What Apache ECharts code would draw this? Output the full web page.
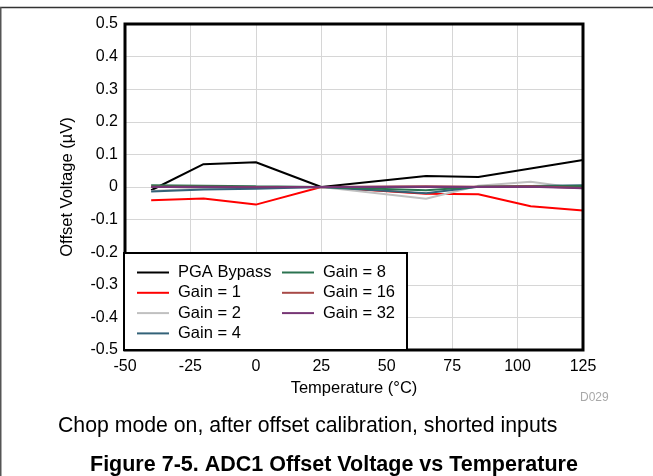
<!DOCTYPE html>
<html>
<head>
<meta charset="utf-8">
<script src="https://cdn.jsdelivr.net/npm/echarts@6/dist/echarts.min.js"></script>
<style>
html,body{margin:0;padding:0;background:#fff;}
#chart{width:653px;height:476px;}
</style>
</head>
<body>
<div id="chart"></div>
<script>
const temperatures = [-40, -20, 0, 25, 65, 85, 105, 125];
const pgaBypass = [-0.01, 0.070, 0.076, 0.0, 0.034, 0.031, 0.057, 0.083];
const gain1 = [-0.041, -0.035, -0.054, 0.0, -0.021, -0.022, -0.059, -0.072];
const gain2 = [-0.012, -0.004, -0.002, 0.0, -0.036, 0.004, 0.016, -0.005];
const gain4 = [-0.014, -0.008, -0.005, 0.0, -0.019, 0.001, 0.003, 0.005];
const gain8 = [0.005, 0.004, 0.002, 0.0, -0.010, 0.001, 0.002, 0.003];
const gain16 = [0.001, 0.001, 0.0, 0.0, 0.002, 0.001, 0.002, -0.003];
const gain32 = [0.0, 0.0, -0.001, 0.0, 0.001, 0.0, 0.001, -0.004];

const seriesNames = ['PGA Bypass', 'Gain = 1', 'Gain = 2', 'Gain = 4', 'Gain = 8', 'Gain = 16', 'Gain = 32'];
const seriesValues = [pgaBypass, gain1, gain2, gain4, gain8, gain16, gain32];
const seriesColors = ['#000000', '#ff0000', '#c0c0c0', '#336278', '#2b7350', '#a84a47', '#773675'];

const xTicks = [-50, -25, 0, 25, 50, 75, 100, 125];
const yTicks = [-0.5, -0.4, -0.3, -0.2, -0.1, 0, 0.1, 0.2, 0.3, 0.4, 0.5];

const FONT = '"Liberation Sans", Arial, sans-serif';

const chart = echarts.init(document.getElementById('chart'), null, {renderer: 'canvas'});

const series = seriesNames.map((name, i) => ({
  name: name,
  type: 'line',
  data: temperatures.map((t, j) => [t, seriesValues[i][j]]),
  symbol: 'none',
  lineStyle: {color: seriesColors[i], width: 2},
  itemStyle: {color: seriesColors[i]},
  z: 3 + i,
  animation: false
}));

const legendCommon = {
  orient: 'vertical',
  padding: 0,
  itemWidth: 32,
  itemHeight: 16,
  itemGap: 3.3,
  icon: 'path://M0,7 L32,7 L32,9 L0,9 Z',
  textStyle: {fontFamily: FONT, fontSize: 16.5, color: '#000', padding: [0, 0, 0, 4]},
  selectedMode: false,
  z: 20
};

chart.setOption({
  animation: false,
  grid: {left: 125, right: 70, top: 24, bottom: 126, show: false},
  xAxis: {
    type: 'value', min: -50, max: 125, interval: 25,
    name: 'Temperature (°C)', nameLocation: 'middle', nameGap: 25,
    nameTextStyle: {fontFamily: FONT, fontSize: 16.5, color: '#000'},
    axisLine: {show: false}, axisTick: {show: false},
    axisLabel: {fontFamily: FONT, fontSize: 16, color: '#000', margin: 9,
      formatter: v => xTicks.includes(v) ? String(v) : ''},
    splitLine: {show: true, lineStyle: {color: '#d6d6d6', width: 1}}
  },
  yAxis: {
    type: 'value', min: -0.5, max: 0.5, interval: 0.1,
    name: 'Offset Voltage (µV)', nameLocation: 'middle', nameGap: 49,
    nameTextStyle: {fontFamily: FONT, fontSize: 16.5, color: '#000'},
    axisLine: {show: false}, axisTick: {show: false},
    axisLabel: {fontFamily: FONT, fontSize: 16, color: '#000', margin: 7,
      formatter: v => { const t = yTicks.find(y => Math.abs(y - v) < 1e-9); return t === undefined ? '' : (t === 0 ? '0' : String(t)); }},
    splitLine: {show: true, lineStyle: {color: '#d6d6d6', width: 1}}
  },
  legend: [
    Object.assign({}, legendCommon, {left: 137, top: 264, data: seriesNames.slice(0, 4)}),
    Object.assign({}, legendCommon, {left: 282, top: 264, data: seriesNames.slice(4)})
  ],
  title: [
    {text: 'D029', left: 575, top: 386.5, textStyle: {fontFamily: FONT, fontSize: 12, fontWeight: 'normal', color: '#a8a8a8'}},
    {text: 'Chop mode on, after offset calibration, shorted inputs', left: 53, top: 411,
      textStyle: {fontFamily: FONT, fontSize: 21.25, fontWeight: 'normal', color: '#000'}},
    {text: 'Figure 7-5. ADC1 Offset Voltage vs Temperature', left: 85, top: 449.5,
      textStyle: {fontFamily: FONT, fontSize: 21.5, fontWeight: 'bold', color: '#000'}}
  ],
  graphic: [
    {type: 'rect', z: 10, shape: {x: 125, y: 24, width: 458, height: 326},
      style: {fill: 'none', stroke: '#000', lineWidth: 3}},
    {type: 'rect', z: 15, shape: {x: 124, y: 253, width: 283, height: 97},
      style: {fill: '#fff', stroke: '#000', lineWidth: 2}},
    {type: 'line', z: 1, shape: {x1: 0, y1: 7.5, x2: 653, y2: 7.5}, style: {stroke: '#333', lineWidth: 1.5}},
    {type: 'line', z: 1, shape: {x1: 0.75, y1: 7, x2: 0.75, y2: 476}, style: {stroke: '#555', lineWidth: 1.5}}
  ],
  series: series
});
</script>
</body>
</html>
